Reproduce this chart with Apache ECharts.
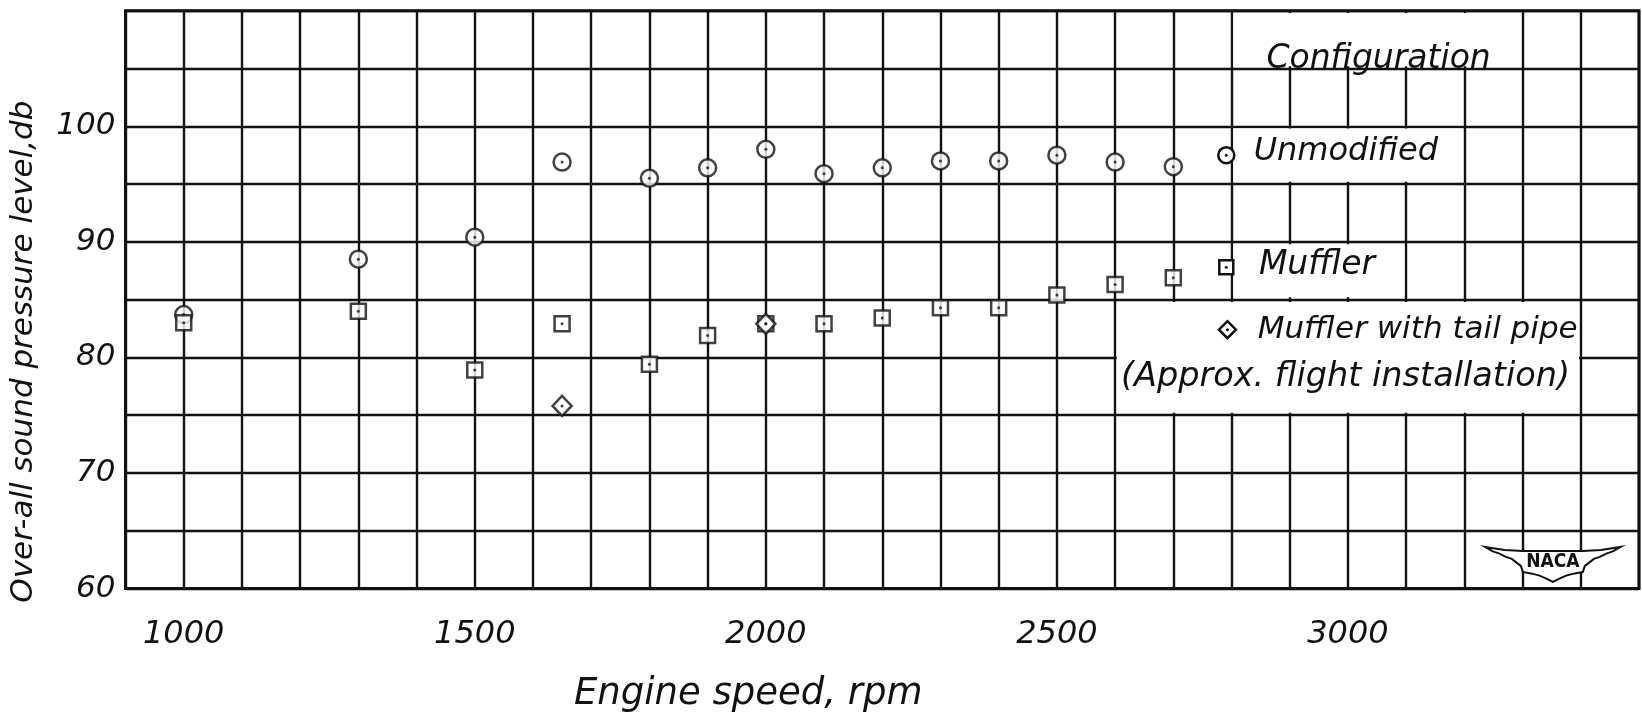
<!DOCTYPE html>
<html>
<head>
<meta charset="utf-8">
<script src="https://cdn.jsdelivr.net/npm/echarts@6/dist/echarts.min.js"></script>
<style>
html,body{margin:0;padding:0;background:#fff;}
#chart{width:1642px;height:718px;}
</style>
</head>
<body>
<div id="chart"></div>
<script>
// ---------------- data ----------------
const rpmUnmodified = [1000, 1300, 1500, 1650, 1800, 1900, 2000, 2100, 2200, 2300, 2400, 2500, 2600, 2700];
const dbUnmodified  = [83.7, 88.5, 90.4, 96.9, 95.5, 96.4, 98.0, 95.9, 96.4, 97.0, 97.0, 97.5, 96.9, 96.5];
const rpmMuffler    = [1000, 1300, 1500, 1650, 1800, 1900, 2000, 2100, 2200, 2300, 2400, 2500, 2600, 2700];
const dbMuffler     = [83.0, 84.0, 78.9, 82.9, 79.4, 81.9, 82.9, 82.9, 83.4, 84.3, 84.3, 85.4, 86.3, 86.9];
const rpmTailPipe   = [1650, 2000];
const dbTailPipe    = [75.8, 82.9];
const xTickLabels   = [1000, 1500, 2000, 2500, 3000];
const yTickLabels   = [60, 70, 80, 90, 100];
const seriesNames   = ['Unmodified', 'Muffler', 'Muffler with tail pipe'];
const legendHeader  = 'Configuration';
const legendNote    = '(Approx. flight installation)';
const xTitle        = 'Engine speed, rpm';
const yTitle        = 'Over-all sound pressure level,db';

// ---------------- styling / layout ----------------
const FONT = '"DejaVu Sans", "Liberation Sans", sans-serif';
const INK = '#111';
const zip = (xs, ys) => xs.map((x, i) => [x, ys[i]]);

const chart = echarts.init(document.getElementById('chart'), null, {renderer: 'canvas'});

const markerStyle = {color: '#fff', borderColor: INK, borderWidth: 2.5};
const dotSeries = (data) => ({
  type: 'scatter', data, symbol: 'circle', symbolSize: 3, silent: true,
  itemStyle: {color: INK}, z: 5
});

// white label boxes of the key (in data coordinates, slightly inset from grid lines)
const keyBoxes = [
  [[2803, 109.8], [3297, 105.2]],
  [[2803, 99.8], [3197, 95.2]],
  [[2803, 89.8], [3097, 85.2]],
  [[2603, 84.8], [3397, 75.2]]
];

const option = {
  animation: false,
  backgroundColor: '#fff',
  grid: {left: 125.5, right: 3, top: 10.7, bottom: 129.5, show: true,
         borderColor: INK, borderWidth: 3, backgroundColor: 'transparent'},
  xAxis: {
    type: 'value', min: 900, max: 3500, interval: 100,
    axisLine: {show: false}, axisTick: {show: false},
    splitLine: {show: true, lineStyle: {color: INK, width: 2.4}},
    axisLabel: {
      margin: 30, fontSize: 32, fontFamily: FONT, fontStyle: 'italic', color: INK,
      formatter: v => xTickLabels.includes(v) ? String(v) : ''
    },
    name: xTitle, nameLocation: 'middle', nameGap: 87,
    nameTextStyle: {fontSize: 37, fontFamily: FONT, fontStyle: 'italic', color: INK,
                    padding: [0, 268, 0, 0]}
  },
  yAxis: {
    type: 'value', min: 60, max: 110, interval: 5,
    axisLine: {show: false}, axisTick: {show: false},
    splitLine: {show: true, lineStyle: {color: INK, width: 2.4}},
    axisLabel: {
      margin: 10, fontSize: 31, fontFamily: FONT, fontStyle: 'italic', color: INK,
      formatter: v => yTickLabels.includes(v) ? String(v) : ''
    },
    name: yTitle, nameLocation: 'middle', nameGap: 86,
    nameTextStyle: {fontSize: 31, fontFamily: FONT, fontStyle: 'italic', color: INK,
                    padding: [0, 104, 0, 0]}
  },
  series: [
    {
      name: seriesNames[0], type: 'scatter', data: zip(rpmUnmodified, dbUnmodified),
      symbol: 'circle', symbolSize: 17, itemStyle: markerStyle, z: 3,
      markArea: {
        silent: true,
        itemStyle: {color: '#fff', opacity: 1, borderWidth: 0},
        label: {show: false},
        data: keyBoxes.map(b => [{coord: b[0]}, {coord: b[1]}])
      }
    },
    {
      name: seriesNames[1], type: 'scatter', data: zip(rpmMuffler, dbMuffler),
      symbol: 'rect', symbolSize: 15, itemStyle: markerStyle, z: 3
    },
    {
      name: seriesNames[2], type: 'scatter', data: zip(rpmTailPipe, dbTailPipe),
      symbol: 'diamond', symbolSize: [19, 20], itemStyle: markerStyle, z: 4
    },
    dotSeries(zip(rpmUnmodified, dbUnmodified)),
    dotSeries(zip(rpmMuffler, dbMuffler)),
    dotSeries(zip(rpmTailPipe, dbTailPipe))
  ]
};
chart.setOption(option);

// ---------------- key (legend) and NACA emblem ----------------
const P = (x, y) => chart.convertToPixel({gridIndex: 0}, [x, y]);
const textEl = (str, x, y, size) => {
  const p = P(x, y);
  return {type: 'text', x: p[0], y: p[1], z: 20,
    style: {text: str, fill: INK, fontSize: size, fontFamily: FONT, fontStyle: 'italic',
            align: 'left', verticalAlign: 'middle'}};
};
const keyDot = (p) => ({type: 'circle', z: 21, shape: {cx: p[0], cy: p[1], r: 1.5}, style: {fill: INK}});

const pc = P(2791, 97.5), ps = P(2791, 87.8), pd = P(2793, 82.4);
const graphics = [
  textEl(legendHeader, 2860, 105.8, 33),
  {type: 'circle', z: 20, shape: {cx: pc[0], cy: pc[1], r: 8},
   style: {fill: '#fff', stroke: INK, lineWidth: 2.5}},
  keyDot(pc),
  textEl(seriesNames[0], 2838, 97.8, 32),
  {type: 'rect', z: 20, shape: {x: ps[0] - 7, y: ps[1] - 7, width: 14, height: 14},
   style: {fill: '#fff', stroke: INK, lineWidth: 2.5}},
  keyDot(ps),
  textEl(seriesNames[1], 2847, 88.0, 33),
  {type: 'polygon', z: 20, shape: {points: [[pd[0], pd[1] - 8.5], [pd[0] + 8.5, pd[1]], [pd[0], pd[1] + 8.5], [pd[0] - 8.5, pd[1]]]},
   style: {fill: '#fff', stroke: INK, lineWidth: 2.5}},
  keyDot(pd),
  textEl(seriesNames[2], 2845, 82.4, 31),
  textEl(legendNote, 2610, 78.3, 33.5)
];

// NACA wing emblem in the lower-right cell
const lt = P(3352, 63.6);
const half = [[68, 0], [60, 4.5], [54, 6.5], [47, 10], [41, 12], [36, 16], [32, 19], [30, 25],
              [22, 26.5], [14, 28.5], [7, 31.5], [0, 35]];
const wing = [[-68, 0], [-48, 3], [-30, 4], [30, 4], [48, 3]]
  .concat(half)
  .concat(half.slice(0, -1).reverse().map(p => [-p[0], p[1]]));
graphics.push({
  type: 'group', x: lt[0], y: lt[1], z: 20,
  children: [
    {type: 'polygon', shape: {points: wing}, style: {fill: '#fff', stroke: INK, lineWidth: 2}},
    {type: 'text', x: 0, y: 15.5, style: {text: 'NACA', fill: INK, fontSize: 19,
      fontFamily: '"DejaVu Sans Condensed", "DejaVu Sans", sans-serif', fontWeight: 'bold',
      align: 'center', verticalAlign: 'middle'}}
  ]
});
chart.setOption({graphic: graphics});
</script>
</body>
</html>
